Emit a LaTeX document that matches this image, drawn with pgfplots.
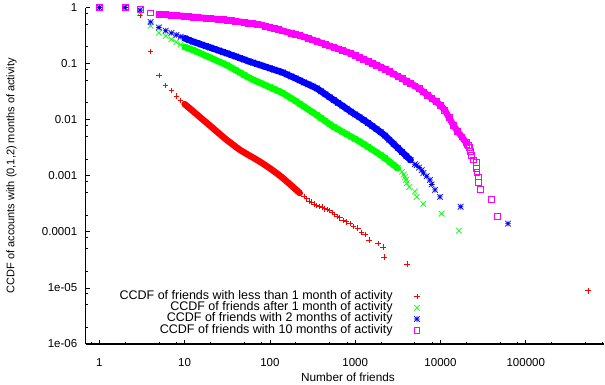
\documentclass[border=0pt]{standalone}
\usepackage{fontspec}
\setmainfont{Liberation Sans}
\usepackage{pgfplots}
\usepackage{pgfplotstable}
\pgfplotsset{compat=1.18}
\definecolor{gpred}{RGB}{255,0,0}
\definecolor{gpgreen}{RGB}{0,255,0}
\definecolor{gpblue}{RGB}{0,0,255}
\definecolor{gpmag}{RGB}{255,0,255}
\pgfdeclareplotmark{gpplus}{%
  \pgfpathmoveto{\pgfqpoint{-\pgfplotmarksize}{0pt}}%
  \pgfpathlineto{\pgfqpoint{\pgfplotmarksize}{0pt}}%
  \pgfpathmoveto{\pgfqpoint{0pt}{-\pgfplotmarksize}}%
  \pgfpathlineto{\pgfqpoint{0pt}{\pgfplotmarksize}}%
  \pgfusepathqstroke}
\pgfdeclareplotmark{gpx}{%
  \pgfpathmoveto{\pgfqpoint{-\pgfplotmarksize}{-\pgfplotmarksize}}%
  \pgfpathlineto{\pgfqpoint{\pgfplotmarksize}{\pgfplotmarksize}}%
  \pgfpathmoveto{\pgfqpoint{-\pgfplotmarksize}{\pgfplotmarksize}}%
  \pgfpathlineto{\pgfqpoint{\pgfplotmarksize}{-\pgfplotmarksize}}%
  \pgfusepathqstroke}
\pgfdeclareplotmark{gpstar}{%
  \pgfpathmoveto{\pgfqpoint{-\pgfplotmarksize}{0pt}}%
  \pgfpathlineto{\pgfqpoint{\pgfplotmarksize}{0pt}}%
  \pgfpathmoveto{\pgfqpoint{0pt}{-\pgfplotmarksize}}%
  \pgfpathlineto{\pgfqpoint{0pt}{\pgfplotmarksize}}%
  \pgfpathmoveto{\pgfqpoint{-\pgfplotmarksize}{-\pgfplotmarksize}}%
  \pgfpathlineto{\pgfqpoint{\pgfplotmarksize}{\pgfplotmarksize}}%
  \pgfpathmoveto{\pgfqpoint{-\pgfplotmarksize}{\pgfplotmarksize}}%
  \pgfpathlineto{\pgfqpoint{\pgfplotmarksize}{-\pgfplotmarksize}}%
  \pgfusepathqstroke}
\pgfdeclareplotmark{gpbox}{%
  \pgfpathrectangle{\pgfqpoint{-\pgfplotmarksize}{-\pgfplotmarksize}}{\pgfqpoint{2\pgfplotmarksize}{2\pgfplotmarksize}}%
  \pgfusepathqstroke}
% ---------- red: less than 1 month
\pgfplotstableread{
x y
1 1
2 1
3 0.735
4 0.163
5 0.0618
6 0.041
7 0.033
8 0.0264
9 0.0218
}\redA
\pgfplotstableread{
x y
10 0.019
11.2 0.0164
12.6 0.0141
14.1 0.0122
15.8 0.0105
17.8 0.00902
20 0.00776
22.4 0.00668
25.1 0.00575
28.2 0.00495
31.6 0.00428
35.5 0.00375
39.8 0.00328
44.7 0.00288
50.1 0.00260
56.2 0.00234
63.1 0.00212
70.8 0.00191
79.4 0.00172
89.1 0.00153
100 0.00136
112 0.00120
126 0.00105
141 0.000918
158 0.000788
178 0.000673
200 0.000575
224 0.000492
}\redB
\pgfplotstableread{
x y
251 0.000427
269 0.000392
288 0.000356
309 0.000338
331 0.000311
355 0.000294
380 0.000285
407 0.000276
437 0.000258
468 0.000249
501 0.000240
537 0.000222
575 0.000205
617 0.000187
661 0.000178
724 0.000160
794 0.000151
871 0.000142
955 0.000125
1072 0.000116
1192 0.0000979
1303 0.000089
1463 0.0000712
1866 0.0000623
2135 0.0000534
2193 0.0000356
4050 0.0000267
537000 0.0000089
}\redC
% ---------- green: after 1 month
\pgfplotstableread{
x y
1 1
2 1
3 0.80
4 0.474
5 0.356
6 0.31
7 0.271
8 0.241
9 0.217
}\greenA
\pgfplotstableread{
x y
10 0.198
11.2 0.186
12.6 0.175
14.1 0.162
15.8 0.150
17.8 0.138
20 0.128
22.4 0.118
25.1 0.109
28.2 0.101
31.6 0.0933
35.5 0.0844
39.8 0.0764
44.7 0.0690
50.1 0.0625
56.2 0.0565
63.1 0.0519
70.8 0.0480
79.4 0.0444
89.1 0.0410
100 0.0379
112 0.0350
126 0.0324
141 0.0299
158 0.0269
178 0.0240
200 0.0215
224 0.0192
251 0.0171
282 0.0152
316 0.0136
355 0.0121
398 0.0107
447 0.00944
501 0.00834
562 0.00740
631 0.00670
708 0.00608
794 0.00551
891 0.00499
1000 0.00453
1122 0.00410
1259 0.00367
1413 0.00328
1585 0.00293
1778 0.00262
1995 0.00233
2239 0.00207
2512 0.00179
2818 0.00156
3162 0.00136
}\greenB
\pgfplotstableread{
x y
3548 0.00118
3715 0.00105
3850 0.000945
3935 0.00084
4015 0.000735
4310 0.00063
5020 0.000525
5260 0.00042
6290 0.000315
10330 0.00021
16480 0.000105
}\greenC
% ---------- blue: 2 months
\pgfplotstableread{
x y
1 1
2 1
3 0.9
4 0.55
5 0.44
6 0.386
7 0.352
8 0.324
9 0.302
}\blueA
\pgfplotstableread{
x y
10 0.283
11.2 0.264
12.6 0.246
14.1 0.232
15.8 0.218
17.8 0.205
20 0.193
22.4 0.182
25.1 0.171
28.2 0.161
31.6 0.152
35.5 0.142
39.8 0.134
44.7 0.125
50.1 0.118
56.2 0.110
63.1 0.104
70.8 0.0982
79.4 0.0927
89.1 0.0875
100 0.0826
112 0.0779
126 0.0736
141 0.0695
158 0.0641
178 0.0591
200 0.0545
224 0.0502
251 0.0462
282 0.0427
316 0.0393
355 0.0361
398 0.0321
447 0.0284
501 0.0252
562 0.0224
631 0.0199
708 0.0177
794 0.0157
891 0.0139
1000 0.0124
1122 0.0111
1259 0.00986
1413 0.00875
1585 0.00771
1778 0.00679
1995 0.00598
2239 0.00519
2512 0.00439
2818 0.00371
3162 0.00314
3548 0.00265
3981 0.00224
4467 0.00190
}\blueB
\pgfplotstableread{
x y
5012 0.00161
5250 0.00154
5623 0.0014
6030 0.00126
6310 0.00112
6890 0.00098
7530 0.00084
7890 0.0007
8630 0.00056
9870 0.00042
17250 0.00028
61800 0.00014
}\blueC
% ---------- magenta: 10 months
\pgfplotstableread{
x y
1 1
2 1
3 0.93
4 0.80
}\magA
\pgfplotstableread{
x y
5 0.765
6 0.748
7 0.733
8 0.721
9 0.710
10 0.700
11.2 0.689
12.6 0.678
14.1 0.667
15.8 0.656
17.8 0.646
20 0.636
22.4 0.626
25.1 0.617
28.2 0.607
31.6 0.597
35.5 0.583
39.8 0.569
44.7 0.556
50.1 0.543
56.2 0.530
63.1 0.518
70.8 0.506
79.4 0.490
89.1 0.467
100 0.446
112 0.425
126 0.405
141 0.385
158 0.367
178 0.350
200 0.334
224 0.318
251 0.299
282 0.281
316 0.265
355 0.249
398 0.234
447 0.220
501 0.207
562 0.195
631 0.183
708 0.172
794 0.162
891 0.152
1000 0.140
1122 0.129
1259 0.120
1413 0.110
1585 0.102
1778 0.0942
1995 0.0871
2239 0.0797
2512 0.0723
2818 0.0656
3162 0.0594
3548 0.0539
3981 0.0489
4467 0.0444
5012 0.0402
5623 0.0358
6310 0.0313
7079 0.0274
7943 0.0239
8913 0.0209
10000 0.0182
11220 0.0149
12590 0.0109
14130 0.00804
15850 0.00621
17780 0.00494
19950 0.00391
}\magB
\pgfplotstableread{
x y
20400 0.00365
21100 0.00346
21770 0.00326
22600 0.00269
22800 0.0023
24270 0.00192
26080 0.00173
26560 0.00134
26700 0.00115
27730 0.00096
28050 0.00077
29300 0.00058
39100 0.00038
45950 0.000192
}\magC
\begin{document}
\begin{tikzpicture}
\begin{axis}[
  name=ax,
  xmode=log, ymode=log,
  scale only axis, width=518.3pt, height=336.5pt,
  xmin=0.693, xmax=826000, ymin=1e-6, ymax=1,
  axis x line*=bottom, axis y line*=left,
  axis line style={line width=1.3pt, -},
  xtick={1,10,100,1000,10000,100000},
  xticklabels={1,10,100,1000,10000,100000},
  ytick={1e-6,1e-5,1e-4,1e-3,1e-2,1e-1,1},
  yticklabels={1e-06,1e-05,0.0001,0.001,0.01,0.1,1},
  minor xtick={0.8,2,5,8,20,50,80,200,500,800,2000,5000,8000,20000,50000,80000,200000,500000,800000},
  minor ytick={2e-6,5e-6,8e-6,2e-5,5e-5,8e-5,2e-4,5e-4,8e-4,2e-3,5e-3,8e-3,2e-2,5e-2,8e-2,0.2,0.5,0.8},
  tick align=inside,
  major tick length=4.5pt, minor tick length=2.3pt,
  every tick/.style={black, line width=0.7pt},
  tick label style={font=\fontsize{11.5}{12}\selectfont},
  xticklabel style={yshift=-11pt},
  yticklabel style={xshift=-5pt},
  /pgf/number format/assume math mode=true,
  xlabel={Number of friends},
  ylabel={CCDF of accounts with (0,1,2) months of activity},
  xlabel style={font=\fontsize{11.8}{12}\selectfont, at={(axis description cs:0.506,-0.098)}, anchor=center},
  ylabel style={font=\fontsize{11}{12}\selectfont, at={(axis description cs:-0.143,0.5)}, anchor=center},
  clip=false,
  legend style={draw=none, fill=none, at={(axis description cs:0.645,0.158)}, anchor=north east,
    font=\fontsize{12.5}{11.2}\selectfont, row sep=0pt, inner sep=0pt,
    nodes={inner sep=0.4pt, text height=8pt, text depth=2.4pt}, column sep=21pt},
  legend cell align=right,
  legend plot pos=right,
  band/.style={line width=6.5pt, line cap=round, line join=round, forget plot, mark=none},
  ptred/.style={only marks, mark=gpplus, mark size=2.8pt, line width=0.7pt, color=gpred, mark options={color=gpred}},
  ptgreen/.style={only marks, mark=gpx, mark size=2.8pt, line width=0.7pt, color=gpgreen, mark options={color=gpgreen}},
  ptblue/.style={only marks, mark=gpstar, mark size=2.8pt, line width=0.7pt, color=gpblue, mark options={color=gpblue}},
  ptmag/.style={only marks, mark=gpbox, mark size=2.9pt, line width=0.7pt, color=gpmag, mark options={color=gpmag}},
]
% red
\addplot[gpred, band] table {\redB};
\addplot[ptred] table {\redB};
\addlegendentry{CCDF of friends with less than 1 month of activity}
\addplot[ptred, forget plot] table {\redA};
\addplot[ptred, forget plot] table {\redC};
% green
\addplot[gpgreen, band] table {\greenB};
\addplot[ptgreen] table {\greenB};
\addlegendentry{CCDF of friends after 1 month of activity}
\addplot[ptgreen, forget plot] table {\greenA};
\addplot[ptgreen, forget plot] table {\greenC};
% blue
\addplot[gpblue, band] table {\blueB};
\addplot[ptblue] table {\blueB};
\addlegendentry{CCDF of friends with 2 months of activity}
\addplot[ptblue, forget plot] table {\blueA};
\addplot[ptblue, forget plot] table {\blueC};
% magenta
\addplot[gpmag, band] table {\magB};
\addplot[ptmag] table {\magB};
\addlegendentry{CCDF of friends with 10 months of activity}
\addplot[ptmag, forget plot] table {\magA};
\addplot[ptmag, forget plot] table {\magC};
\end{axis}
\pgfresetboundingbox
\path[use as bounding box] ([xshift=-85.7pt,yshift=-40pt]ax.south west) rectangle ([xshift=1pt,yshift=7.5pt]ax.north east);
\end{tikzpicture}
\end{document}
